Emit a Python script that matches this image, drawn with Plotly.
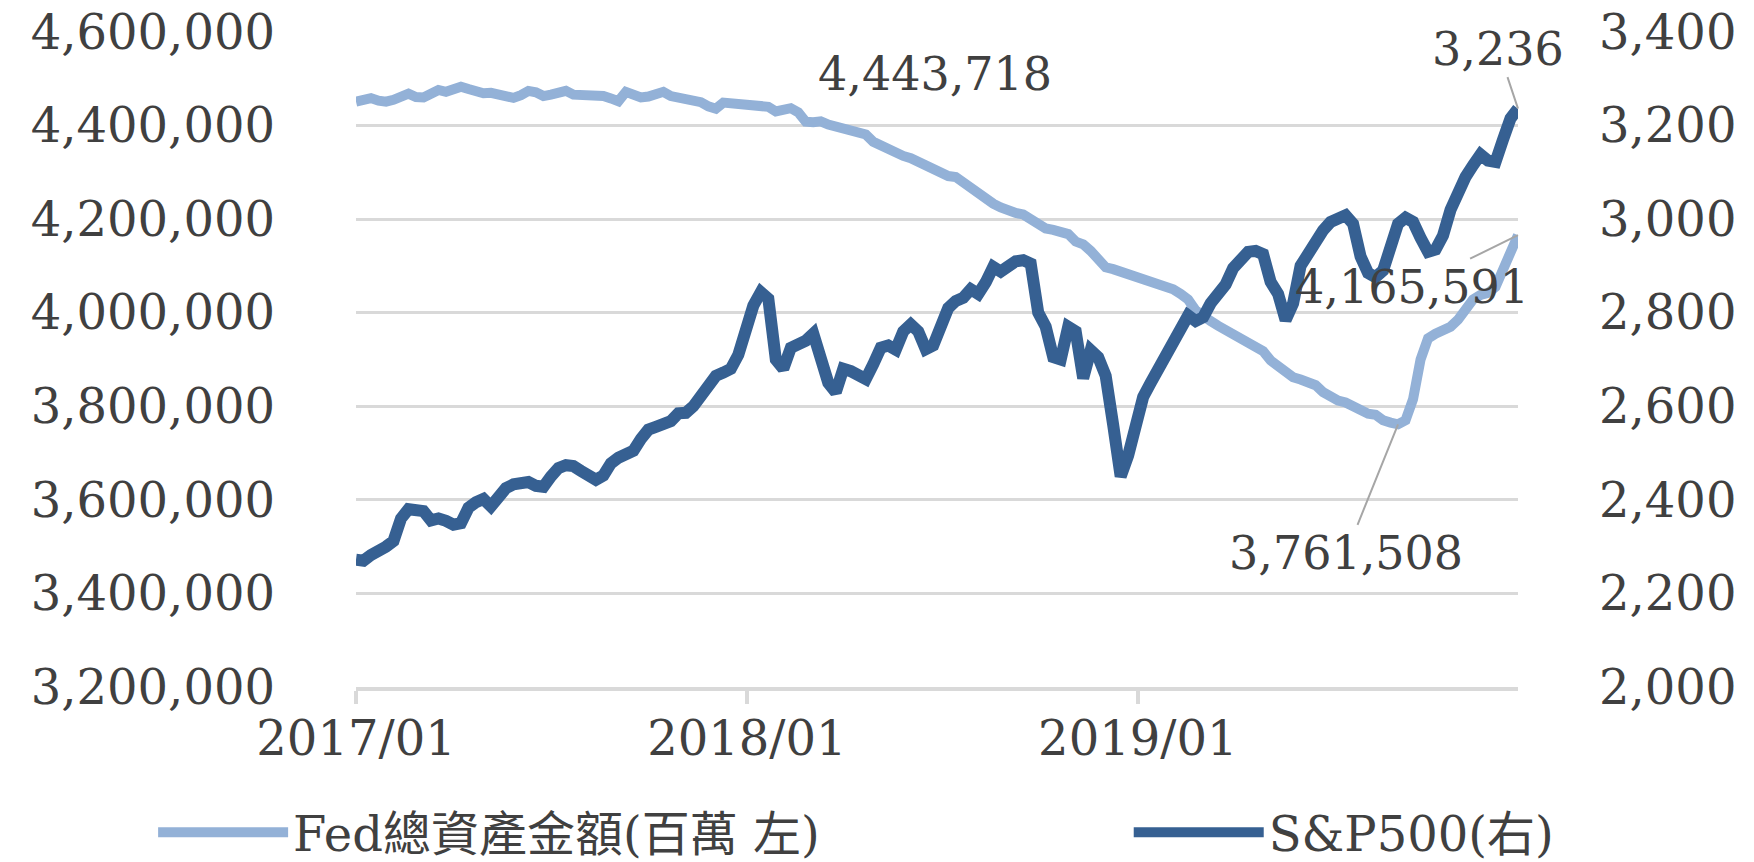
import pandas as pd
import plotly.graph_objects as go

# weekly observations (Fridays), 2017-01-06 .. 2019-12-27
dates = pd.date_range("2017-01-06", periods=156, freq="7D")

fed_assets = [
    4451000, 4455000, 4458500, 4453000, 4451000, 4455000, 4462000, 4468000, 4461000, 4460000,
    4468000, 4476000, 4472000, 4475000, 4483000, 4478000, 4471000, 4469000, 4470000, 4468000,
    4465000, 4459000, 4465000, 4474000, 4471000, 4463000, 4466000, 4471000, 4474000, 4466000,
    4465000, 4466000, 4467000, 4463000, 4458000, 4452000, 4472000, 4465000, 4460000, 4462000,
    4467000, 4472000, 4463000, 4460000, 4459000, 4456000, 4450000, 4441000, 4436000, 4449000,
    4448000, 4447000, 4443718, 4442000, 4445000, 4440000, 4430000, 4433000, 4437000, 4428000,
    4408000, 4407000, 4409000, 4402000, 4397000, 4391000, 4389000, 4384000, 4381000, 4365000,
    4357000, 4352000, 4340000, 4335000, 4330000, 4322000, 4314000, 4305000, 4295000, 4292000,
    4290000, 4278000, 4265000, 4255000, 4243000, 4233000, 4225000, 4217000, 4213000, 4210000,
    4200000, 4187000, 4180000, 4177000, 4175000, 4168000, 4152000, 4146000, 4132000, 4110000,
    4097000, 4093000, 4088000, 4085000, 4078000, 4070000, 4065000, 4060000, 4058000, 4050000,
    4040000, 4028000, 4005000, 3990000, 3982000, 3972000, 3962000, 3952000, 3943000, 3935000,
    3928000, 3918000, 3898000, 3886000, 3872000, 3862000, 3857000, 3852000, 3845000, 3830000,
    3818000, 3812000, 3808000, 3800000, 3788000, 3784000, 3782000, 3770000, 3765000, 3761508,
    3770000, 3815000, 3900000, 3945000, 3955000, 3962000, 3970000, 3985000, 4005000, 4028000,
    4038000, 4042000, 4055000, 4090000, 4125000, 4165591,
]

sp500 = [
    2272, 2270, 2282, 2288, 2300, 2312, 2360, 2380, 2378, 2376,
    2356, 2360, 2355, 2347, 2350, 2383, 2395, 2402, 2386, 2405,
    2425, 2433, 2436, 2438, 2430, 2428, 2450, 2468, 2474, 2472,
    2462, 2450, 2443, 2452, 2478, 2490, 2500, 2505, 2530, 2550,
    2556, 2562, 2568, 2585, 2586, 2600, 2620, 2645, 2665, 2672,
    2680, 2710, 2770, 2815, 2844, 2830, 2700, 2680, 2725, 2730,
    2740, 2755, 2710, 2650, 2630, 2680, 2675, 2665, 2658, 2690,
    2725, 2730, 2721, 2760, 2775, 2760, 2722, 2730, 2780, 2810,
    2825, 2832, 2850, 2840, 2865, 2898, 2888, 2900, 2910, 2912,
    2905, 2800, 2770, 2705, 2700, 2770, 2760, 2660, 2720, 2705,
    2665, 2560, 2450, 2495, 2560, 2620, 2650, 2680, 2705, 2740,
    2770, 2794, 2782, 2790, 2820, 2839, 2860, 2895, 2915, 2930,
    2932, 2925, 2866, 2840, 2784, 2820, 2900, 2928, 2950, 2976,
    2994, 3000, 3008, 2990, 2920, 2885, 2876, 2890, 2950, 2990,
    3003, 2994, 2960, 2930, 2935, 2965, 3020, 3060, 3090, 3115,
    3138, 3125, 3122, 3170, 3215, 3236,
]

x_tick_vals = ["2017-01-06", "2018-01-06", "2019-01-06"]
x_tick_text = ["2017/01", "2018/01", "2019/01"]

FED_NAME = "Fed總資產金額(百萬 左)"
SP_NAME = "S&P500(右)"

FONT = "DejaVu Serif, Noto Sans CJK TC, serif"
TXT = "#404040"
GRID = "#d9d9d9"
C_FED = "#93B1D7"
C_SP = "#366092"

fig = go.Figure()
fig.add_trace(go.Scatter(x=dates, y=fed_assets, name=FED_NAME, mode="lines",
                         line=dict(color=C_FED, width=10), yaxis="y", legend="legend"))
fig.add_trace(go.Scatter(x=dates, y=sp500, name=SP_NAME, mode="lines",
                         line=dict(color=C_SP, width=12), yaxis="y2", legend="legend2"))

i_min = fed_assets.index(min(fed_assets))
i_lab = fed_assets.index(4443718)
ann_font = dict(family=FONT, size=46, color=TXT)
fig.add_annotation(x=dates[-1], y=sp500[-1], yref="y2", text=f"{sp500[-1]:,}",
                   showarrow=True, arrowhead=0, arrowwidth=2, arrowcolor="#a6a6a6",
                   ax=-20, ay=-60, font=ann_font)
fig.add_annotation(x=dates[-1], y=fed_assets[-1], yref="y", text=f"{fed_assets[-1]:,}",
                   showarrow=True, arrowhead=0, arrowwidth=2, arrowcolor="#a6a6a6",
                   ax=-106, ay=52, font=ann_font)
fig.add_annotation(x=dates[i_min], y=fed_assets[i_min], yref="y", text=f"{fed_assets[i_min]:,}",
                   showarrow=True, arrowhead=0, arrowwidth=2, arrowcolor="#a6a6a6",
                   ax=-52, ay=129, font=ann_font)
fig.add_annotation(x=dates[i_lab], y=fed_assets[i_lab], yref="y", text=f"{fed_assets[i_lab]:,}",
                   showarrow=False, xshift=189, yshift=31, font=ann_font)

tick_font = dict(family=FONT, size=48, color=TXT)
leg_font = dict(family=FONT, size=48, color=TXT)
fig.update_layout(
    width=1754, height=862,
    margin=dict(l=356, r=236, t=31, b=175, autoexpand=False),
    paper_bgcolor="white", plot_bgcolor="white",
    font=dict(family=FONT, color=TXT),
    xaxis=dict(type="date", range=[dates[0], dates[-1]],
               tickvals=x_tick_vals, ticktext=x_tick_text,
               ticks="outside", ticklen=13, tickwidth=4, tickcolor=GRID,
               showline=True, linecolor=GRID, linewidth=4,
               showgrid=False, zeroline=False, tickfont=tick_font,
               ticklabelstandoff=-7, ticklabeloverflow="allow"),
    yaxis=dict(range=[3200000, 4602000], tickvals=[3200000 + 200000 * i for i in range(8)],
               tickformat=",",
               showgrid=True, gridcolor=GRID, gridwidth=3, zeroline=False,
               tickfont=tick_font, ticklabelstandoff=80, ticklabeloverflow="allow"),
    yaxis2=dict(range=[2000, 3402], tickvals=[2000 + 200 * i for i in range(8)],
                tickformat=",", overlaying="y",
                side="right", showgrid=False, zeroline=False,
                tickfont=tick_font, ticklabelstandoff=80, ticklabeloverflow="allow"),
    showlegend=True,
    legend=dict(orientation="h", x=-0.1746, xanchor="left", y=-0.222, yanchor="middle",
                font=leg_font, itemwidth=130, bgcolor="rgba(0,0,0,0)"),
    legend2=dict(orientation="h", x=0.665, xanchor="left", y=-0.222, yanchor="middle",
                 font=leg_font, itemwidth=130, bgcolor="rgba(0,0,0,0)"),
)

# remove the default 8px page margin so the figure fills the window exactly
fig.write_html("out.html", config={"displayModeBar": False},
               post_script="document.body.style.margin='0';")
